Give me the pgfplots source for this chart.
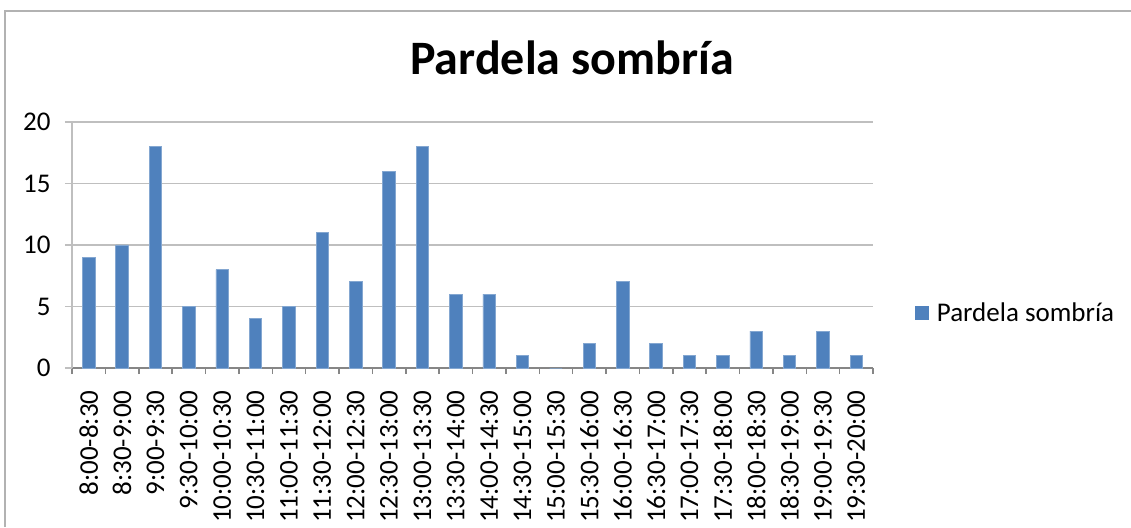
\documentclass[border=0pt]{standalone}
\usepackage{fontspec}
\setmainfont{Carlito}
\usepackage{pgfplots}
\pgfplotsset{compat=1.18}
\definecolor{barblue}{HTML}{4F81BD}
\definecolor{gridgray}{HTML}{BFBFBF}
\definecolor{axisgray}{HTML}{868686}
\begin{document}
\begin{tikzpicture}
\useasboundingbox (0pt,0pt) rectangle (1131pt,527pt);
\draw[gray!60, line width=1.5pt] (5pt,0pt) -- (5pt,516pt) -- (1131pt,516pt);
\node[anchor=base, font=\fontsize{48}{52}\selectfont\bfseries] at (572pt,452pt) {Pardela sombría};
\begin{axis}[
  at={(72pt,159pt)}, anchor=south west,
  width=801pt, height=246pt, scale only axis,
  xmin=-0.5, xmax=23.5, ymin=0, ymax=20,
  axis lines=left,
  axis line style={-},
  x axis line style={axisgray, line width=2.2pt},
  y axis line style={gridgray, line width=1.2pt},
  ytick={0,5,10,15,20},
  ymajorgrids, grid style={gridgray, line width=1.2pt},
  xtick={0,...,23},
  xticklabels={8:00-8:30,8:30-9:00,9:00-9:30,9:30-10:00,10:00-10:30,10:30-11:00,11:00-11:30,11:30-12:00,12:00-12:30,12:30-13:00,13:00-13:30,13:30-14:00,14:00-14:30,14:30-15:00,15:00-15:30,15:30-16:00,16:00-16:30,16:30-17:00,17:00-17:30,17:30-18:00,18:00-18:30,18:30-19:00,19:00-19:30,19:30-20:00},
  x tick label style={rotate=90, anchor=east, font=\fontsize{27}{29}\selectfont, xshift=-12pt},
  y tick label style={font=\fontsize{27}{29}\selectfont, xshift=-11pt},
  minor xtick={-0.5,0.5,...,23.5},
  tick align=outside,
  major tick length=7pt,
  minor tick length=6pt,
  xtick style={draw=none},
  minor x tick style={axisgray, line width=1.5pt, draw=axisgray},
  ytick style={gridgray, line width=1.2pt},
  /pgf/number format/assume math mode=true,
  legend style={at={(1.052,0.224)}, anchor=west, draw=none, fill=none,
    font=\fontsize{27}{29}\selectfont, inner sep=0pt},
  legend image code/.code={\path[draw=none,fill=none] (0pt,0pt) rectangle (20pt,1pt);\fill[barblue,draw=none] (0pt,-7pt) rectangle (14pt,7pt);},
  clip=false,
]
\addplot[ybar, bar width=12.5pt, fill=barblue, draw=barblue!70!white, line width=0.8pt] coordinates {
(0,9) (1,10) (2,18) (3,5) (4,8) (5,4) (6,5) (7,11) (8,7) (9,16) (10,18) (11,6)
(12,6) (13,1) (14,0) (15,2) (16,7) (17,2) (18,1) (19,1) (20,3) (21,1) (22,3) (23,1)
};
\addlegendentry{Pardela sombría}
\end{axis}
\end{tikzpicture}
\end{document}
